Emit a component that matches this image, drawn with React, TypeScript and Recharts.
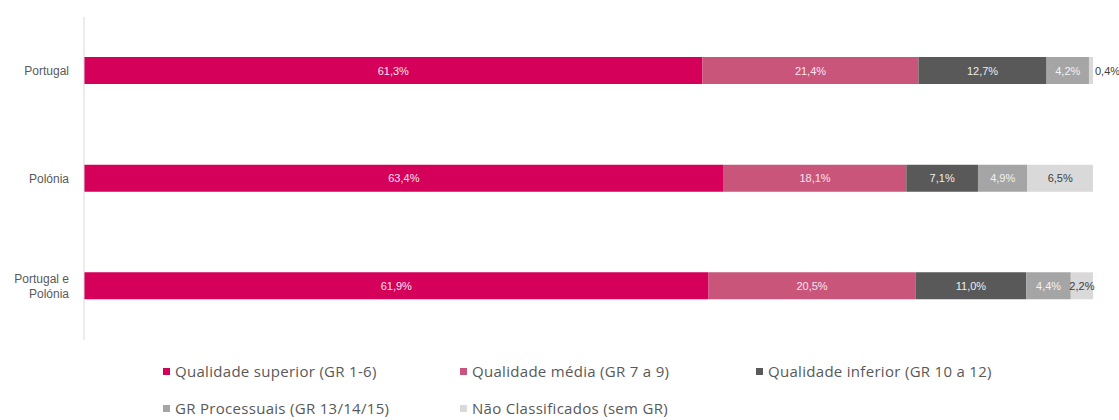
import React from 'react';
import { BarChart, Bar, XAxis, YAxis, LabelList } from 'recharts';

// categories (rows) and series
const countries = ['Portugal', 'Polónia', 'Portugal e Polónia'];
const superior = [61.3, 63.4, 61.9];
const media = [21.4, 18.1, 20.5];
const inferior = [12.7, 7.1, 11.0];
const processuais = [4.2, 4.9, 4.4];
const naoClassificados = [0.4, 6.5, 2.2];

const seriesNames = [
  'Qualidade superior (GR 1-6)',
  'Qualidade média (GR 7 a 9)',
  'Qualidade inferior (GR 10 a 12)',
  'GR Processuais (GR 13/14/15)',
  'Não Classificados (sem GR)',
];
const seriesKeys = ['superior', 'media', 'inferior', 'processuais', 'nao'];
const seriesColors = ['#d4005a', '#c9557b', '#595959', '#a5a5a5', '#d9d9d9'];
const labelColors = ['#fbe3ee', '#fbe3ee', '#eeeeee', '#f2f2f2', '#404040'];

const data = countries.map((c, i) => ({
  country: c,
  superior: superior[i],
  media: media[i],
  inferior: inferior[i],
  processuais: processuais[i],
  nao: naoClassificados[i],
}));

const fmt = (v: number) => v.toFixed(1).replace('.', ',') + '%';
const FONT = '"Liberation Sans", Arial, sans-serif';
const LEGEND_FONT = '"Open Sans", "Liberation Sans", sans-serif';

const makeLabel = (color: string) => (props: any) => {
  const { x, y, width, height, value } = props;
  const small = width < 12;
  return (
    <text
      x={small ? x + width + 2 : x + width / 2}
      y={y + height / 2}
      dy={4}
      textAnchor={small ? 'start' : 'middle'}
      fill={small ? '#404040' : color}
      fontSize={11}
      fontFamily={FONT}
    >
      {fmt(value)}
    </text>
  );
};

const CountryTick = (props: any) => {
  const { x, y, payload } = props;
  const lines = payload.value === 'Portugal e Polónia' ? ['Portugal e', 'Polónia'] : [payload.value];
  const start = -((lines.length - 1) * 15) / 2;
  return (
    <text x={x - 7} y={y} textAnchor="end" fill="#595959" fontSize={12} fontFamily={FONT}>
      {lines.map((l, i) => (
        <tspan key={i} x={x - 7} dy={i === 0 ? start + 4 : 15}>
          {l}
        </tspan>
      ))}
    </text>
  );
};

// legend item centres in page pixels
const legendPos = [
  { left: 163, top: 371 },
  { left: 460, top: 371 },
  { left: 756, top: 371 },
  { left: 163, top: 408 },
  { left: 460, top: 408 },
];

export default function App() {
  return (
    <div
      style={{
        position: 'relative',
        width: 1119,
        height: 420,
        padding: '8px 0 0 8px',
        boxSizing: 'border-box',
        background: '#fff',
        overflow: 'hidden',
      }}
    >
      <style>{'html, body { margin: 0; overflow: hidden; }'}</style>
      <BarChart
        width={1111}
        height={345}
        data={data}
        layout="vertical"
        margin={{ top: 9, right: 26, bottom: 13, left: 0 }}
        barCategoryGap="37.5%"
      >
        <XAxis type="number" domain={[0, 100]} hide />
        <YAxis
          type="category"
          dataKey="country"
          width={76}
          axisLine={{ stroke: '#d9d9d9' }}
          tickLine={false}
          tick={<CountryTick />}
        />
        {seriesKeys.map((k, i) => (
          <Bar
            key={k}
            dataKey={k}
            name={seriesNames[i]}
            stackId="a"
            fill={seriesColors[i]}
            barSize={27}
            isAnimationActive={false}
          >
            <LabelList dataKey={k} content={makeLabel(labelColors[i])} />
          </Bar>
        ))}
      </BarChart>
      {seriesNames.map((n, i) => (
        <div
          key={n}
          style={{
            position: 'absolute',
            left: legendPos[i].left,
            top: legendPos[i].top - 10,
            height: 20,
            display: 'flex',
            alignItems: 'center',
            fontFamily: LEGEND_FONT,
            fontSize: 15,
            letterSpacing: 0.3,
            color: '#595959',
            whiteSpace: 'nowrap',
          }}
        >
          <span style={{ width: 7, height: 7, background: seriesColors[i], marginRight: 5, display: 'inline-block' }} />
          {n}
        </div>
      ))}
    </div>
  );
}
